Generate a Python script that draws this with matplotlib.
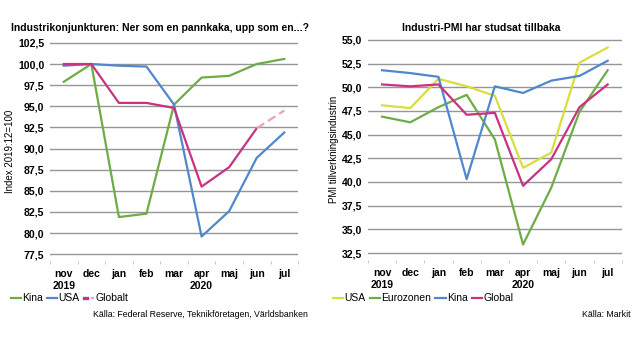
import matplotlib
matplotlib.use("Agg")
import matplotlib.pyplot as plt
from matplotlib.legend_handler import HandlerTuple

# ---------------------------------------------------------------------------
# Data
# ---------------------------------------------------------------------------
months = ["nov\n2019", "dec", "jan", "feb", "mar", "apr\n2020", "maj", "jun", "jul"]

# Vänster: industriproduktion, index 2019:12=100
kina_ind = [97.9, 100.0, 81.9, 82.3, 95.2, 98.4, 98.6, 100.0, 100.6]
usa_ind = [99.8, 100.0, 99.8, 99.7, 95.2, 79.6, 82.6, 88.9, 91.9]
globalt_ind = [100.0, 100.0, 95.4, 95.4, 94.8, 85.5, 87.8, 92.4, None]
globalt_prognos = [None, None, None, None, None, None, None, 92.4, 94.5]

# Höger: PMI tillverkningsindustrin
usa_pmi = [48.1, 47.8, 50.9, 50.1, 49.1, 41.5, 43.1, 52.6, 54.2]
euro_pmi = [46.9, 46.3, 47.9, 49.2, 44.5, 33.4, 39.4, 47.4, 51.8]
kina_pmi = [51.8, 51.5, 51.1, 40.3, 50.1, 49.4, 50.7, 51.2, 52.8]
global_pmi = [50.3, 50.1, 50.3, 47.1, 47.3, 39.6, 42.4, 47.9, 50.3]

left_ticks = [77.5, 80.0, 82.5, 85.0, 87.5, 90.0, 92.5, 95.0, 97.5, 100.0, 102.5]
right_ticks = [32.5, 35.0, 37.5, 40.0, 42.5, 45.0, 47.5, 50.0, 52.5, 55.0]

GREEN = "#6cad45"
BLUE = "#4f88cc"
MAGENTA = "#c93283"
YELLOW = "#d8de3c"
PINK = "#eaa0c6"
GRID = "#969696"


def _nan(vals):
    return [v if v is not None else float("nan") for v in vals]


def _style_axes(ax, ticks, ylim):
    ax.set_xlim(-0.5, len(months) - 0.5)
    ax.set_ylim(*ylim)
    ax.set_yticks(ticks)
    ax.set_yticklabels([f"{t:.1f}".replace(".", ",") for t in ticks],
                       fontsize=7.6, fontweight="bold")
    ax.set_xticks(list(range(len(months))))
    ax.set_xticklabels(months, fontsize=7.5, fontweight="bold")
    ax.set_xticks([i - 0.5 for i in range(len(months) + 1)], minor=True)
    ax.tick_params(axis="x", which="major", length=0, pad=6)
    ax.tick_params(axis="x", which="minor", length=2, color="#c0c0c0")
    ax.tick_params(axis="y", length=0, pad=4)
    for s in ax.spines.values():
        s.set_visible(False)
    ax.grid(axis="y", color=GRID, linewidth=1.0)
    ax.set_axisbelow(True)


plt.rcParams["font.family"] = ["Liberation Sans", "DejaVu Sans"]
fig = plt.figure(figsize=(6.41, 3.39), dpi=100)
x = list(range(len(months)))

# ---------------------------------------------------------------------------
# Vänster diagram
# ---------------------------------------------------------------------------
ax1 = fig.add_axes([0.078, 0.23, 0.387, 0.646])
ax1.plot(x, kina_ind, color=GREEN, lw=1.6)
ax1.plot(x, usa_ind, color=BLUE, lw=1.6)
ax1.plot(x, _nan(globalt_ind), color=MAGENTA, lw=1.6)
ax1.plot(x, _nan(globalt_prognos), color=PINK, lw=1.6, ls=(0, (4, 2)))
_style_axes(ax1, left_ticks, (76.7, 102.6))
ax1.set_ylabel("Index 2019:12=100", fontsize=7, labelpad=2)

h_kina = plt.Line2D([], [], color=GREEN, lw=1.6)
h_usa = plt.Line2D([], [], color=BLUE, lw=1.6)
h_g1 = plt.Line2D([], [], color=MAGENTA, lw=2.4)
h_g2 = plt.Line2D([], [], color=PINK, lw=1.4, ls=(0, (3, 1)))
fig.legend([h_kina, h_usa, (h_g1, h_g2)], ["Kina", "USA", "Globalt"],
           handler_map={tuple: HandlerTuple(ndivide=None)},
           loc="center left", bbox_to_anchor=(0.01, 0.12), ncol=3,
           frameon=False, fontsize=7.5, handlelength=1.0, handletextpad=0.1,
           columnspacing=0.4, borderaxespad=0)

fig.text(0.25, 0.918, "Industrikonjunkturen: Ner som en pannkaka, upp som en...?",
         ha="center", va="center", fontsize=7.5, fontweight="bold")
fig.text(0.48, 0.073, "Källa: Federal Reserve, Teknikföretagen, Världsbanken",
         ha="right", va="center", fontsize=6.3)

# ---------------------------------------------------------------------------
# Höger diagram
# ---------------------------------------------------------------------------
ax2 = fig.add_axes([0.574, 0.233, 0.396, 0.652])
ax2.plot(x, usa_pmi, color=YELLOW, lw=1.6)
ax2.plot(x, euro_pmi, color=GREEN, lw=1.6)
ax2.plot(x, kina_pmi, color=BLUE, lw=1.6)
ax2.plot(x, global_pmi, color=MAGENTA, lw=1.6)
_style_axes(ax2, right_ticks, (31.76, 55.1))
ax2.set_ylabel("PMI tillverkningsindustrin", fontsize=7, labelpad=2)

handles = [plt.Line2D([], [], color=c, lw=1.6) for c in (YELLOW, GREEN, BLUE, MAGENTA)]
fig.legend(handles, ["USA", "Eurozonen", "Kina", "Global"],
           loc="center left", bbox_to_anchor=(0.513, 0.12), ncol=4,
           frameon=False, fontsize=7.5, handlelength=1.0, handletextpad=0.1,
           columnspacing=0.4, borderaxespad=0)

fig.text(0.75, 0.918, "Industri-PMI har studsat tillbaka",
         ha="center", va="center", fontsize=7.5, fontweight="bold")
fig.text(0.983, 0.073, "Källa: Markit", ha="right", va="center", fontsize=6.3)

fig.savefig("out.png", dpi=100)
